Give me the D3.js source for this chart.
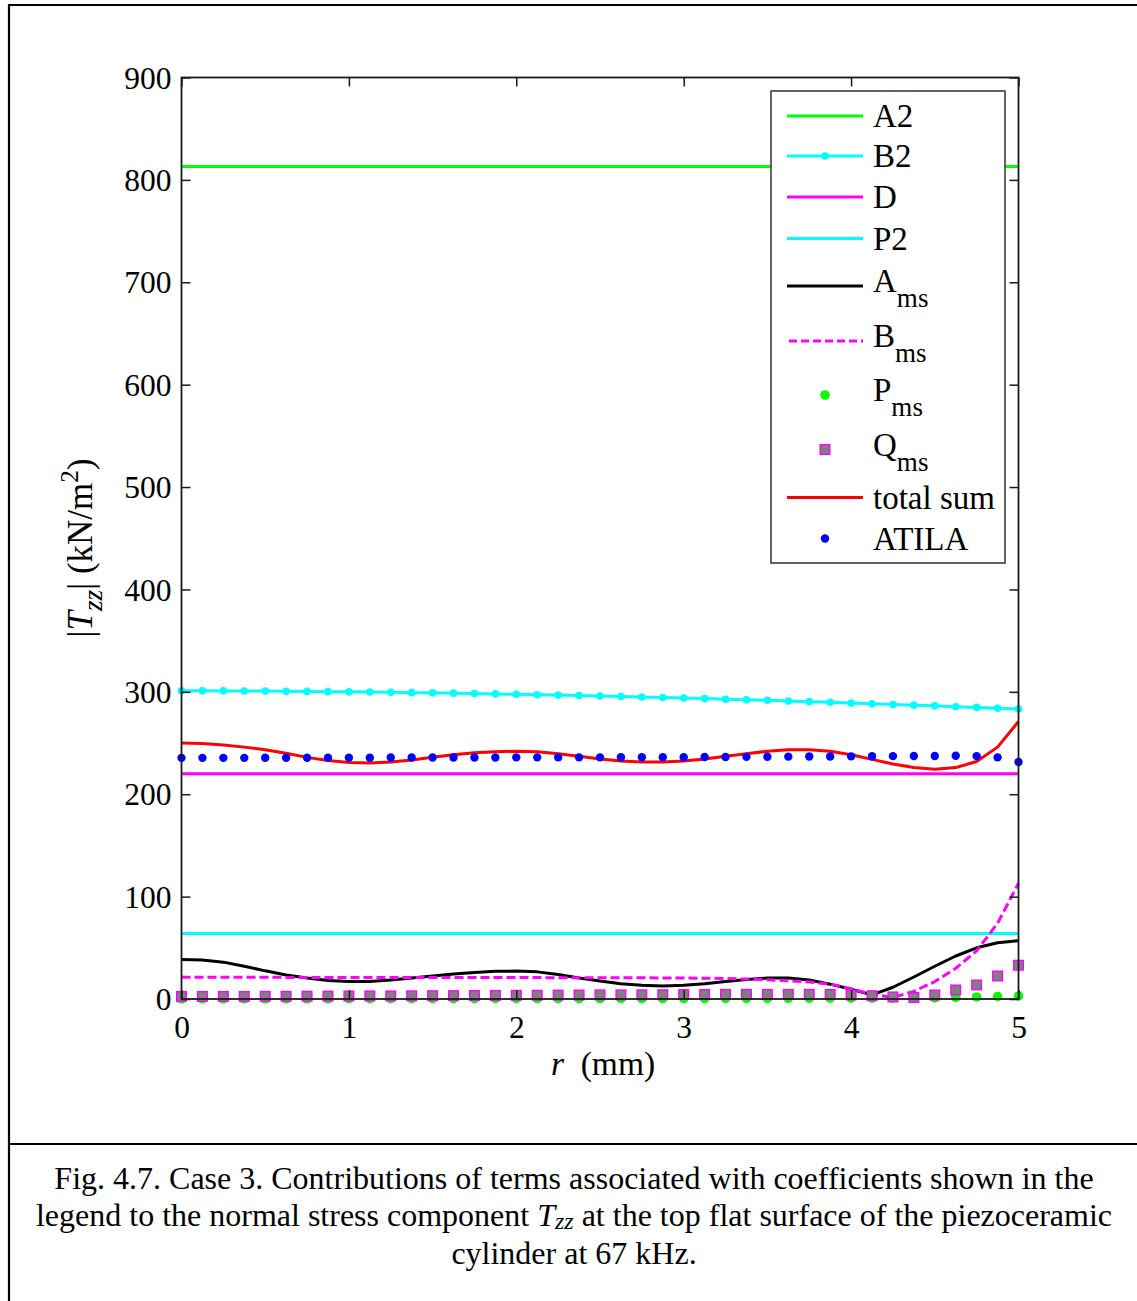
<!DOCTYPE html>
<html>
<head>
<meta charset="utf-8">
<script src="https://cdn.jsdelivr.net/npm/d3@7"></script>
<style>
  html, body { margin: 0; padding: 0; background: #fff; }
  svg { display: block; }
  text { font-family: 'Liberation Serif', 'Times New Roman', serif; fill: #000; }
</style>
</head>
<body>
<svg id="chart" width="1137" height="1301"></svg>
<script>
// ---------------- DATA ----------------
const rGrid = [0, 0.125, 0.25, 0.375, 0.5, 0.625, 0.75, 0.875, 1, 1.125, 1.25, 1.375, 1.5, 1.625, 1.75, 1.875,
  2, 2.125, 2.25, 2.375, 2.5, 2.625, 2.75, 2.875, 3, 3.125, 3.25, 3.375, 3.5, 3.625, 3.75, 3.875,
  4, 4.125, 4.25, 4.375, 4.5, 4.625, 4.75, 4.875, 5];
const rEnds = [0, 5];

const a2Values = [813, 813];
const dValues = [220, 220];
const p2Values = [64, 64];

const b2Values = [301.0, 301.0, 300.9, 300.8, 300.7, 300.6, 300.4, 300.2, 300.0, 299.8,
  299.5, 299.2, 299.0, 298.7, 298.3, 298.0, 297.6, 297.2, 296.8, 296.4,
  296.0, 295.5, 295.0, 294.5, 294.0, 293.4, 292.8, 292.3, 291.7, 291.1,
  290.4, 289.8, 289.1, 288.4, 287.7, 287.0, 286.3, 285.5, 284.8, 284.0, 283.3];

const amsValues = [38.7, 38, 36, 32, 27.5, 23.5, 20.5, 18, 17, 17, 18.5, 20.5, 22.5, 24.5, 26, 27,
  27.3, 26.5, 24, 20.5, 17.5, 15, 13.5, 12.7, 13.5, 15, 17, 19, 20.5, 20.5, 18.5, 14.5,
  9.5, 4, 11.5, 21.5, 32, 42, 50, 55, 57];

const bmsValues = [21.2, 21.2, 21.2, 21.2, 21.2, 21.1, 21.1, 21.1, 21.1, 21.0, 21.0, 21.0, 21.0, 21.0,
  20.9, 20.9, 20.9, 20.9, 20.8, 20.8, 20.8, 20.7, 20.7, 20.6, 20.5, 20.3, 20.0, 19.5, 18.8, 17.8,
  16.5, 14.5, 10, 4.5, 1.5, 7.5, 17, 30, 47, 74, 113];

const pmsValues = [0.2, 0.2, 0.2, 0.2, 0.2, 0.2, 0.2, 0.2, 0.3, 0.3, 0.3, 0.3, 0.3, 0.3, 0.3, 0.3,
  0.4, 0.4, 0.4, 0.4, 0.4, 0.4, 0.5, 0.5, 0.5, 0.5, 0.6, 0.6, 0.6, 0.7, 0.7, 0.8,
  0.8, 0.9, 0.9, 1.0, 1.0, 1.5, 2.0, 2.5, 3.0];

const qmsValues = [2.5, 2.5, 2.5, 2.5, 2.6, 2.6, 2.7, 2.8, 2.9, 3.0, 3.0, 3.1, 3.2, 3.3, 3.4, 3.5,
  3.6, 3.7, 3.8, 3.9, 4.0, 4.0, 4.1, 4.2, 4.3, 4.4, 4.5, 4.5, 4.5, 4.5, 4.5, 4.4,
  4.0, 3.2, 2.0, 1.5, 3.9, 8.8, 13.7, 22.5, 33];

const totalValues = [250, 249.5, 248, 246, 243.5, 240, 236, 233, 231, 230.5, 231.5, 233.5, 236, 238.5,
  240.5, 241.5, 242, 241.5, 239.5, 237, 234.5, 232.5, 231.5, 231.5, 232.5, 234.5, 237, 239.5,
  242, 243.5, 243.5, 242, 238.5, 234, 229.5, 226, 224.5, 226, 232, 246, 271];

const atilaValues = [235.5, 235.5, 235.5, 235.5, 235.6, 235.6, 235.6, 235.7, 235.7, 235.7, 235.8,
  235.8, 235.8, 235.9, 235.9, 235.9, 236.0, 236.0, 236.0, 236.0, 236.0, 236.1, 236.1, 236.2,
  236.2, 236.3, 236.4, 236.5, 236.6, 236.7, 236.8, 236.9, 237.0, 237.1, 237.2, 237.3, 237.4,
  237.6, 237.2, 236.0, 231.5];

const xTicks = [0, 1, 2, 3, 4, 5];
const yTicks = [0, 100, 200, 300, 400, 500, 600, 700, 800, 900];

const legendLabels = ["A2", "B2", "D", "P2", "A", "B", "P", "Q", "total sum", "ATILA"];
const legendSubs = ["", "", "", "", "ms", "ms", "ms", "ms", "", ""];

const captionLines = [
  "Fig. 4.7. Case 3. Contributions of terms associated with coefficients shown in the",
  ["legend to the normal stress component ", "T", "zz", " at the top flat surface of the piezoceramic"],
  "cylinder at 67 kHz."
];

// ---------------- LAYOUT ----------------
const svg = d3.select("#chart");
const plot = { left: 181.5, right: 1018.5, top: 77.5, bottom: 999 };
const x = d3.scaleLinear().domain([0, 5]).range([plot.left, plot.right]);
const y = d3.scaleLinear().domain([0, 900]).range([plot.bottom, plot.top]);

const FONT = 31.5;
const LFONT = 33;
const SW = 3;
const col = { green: "#00ff00", cyan: "#00ffff", magenta: "#ff00ff", black: "#000", red: "#ff0000", blue: "#0000ff", gray: "#808080" };

svg.append("rect").attr("width", 1137).attr("height", 1301).attr("fill", "#fff");

// outer frame
svg.append("line").attr("x1", 8).attr("x2", 1137).attr("y1", 5).attr("y2", 5).attr("stroke", "#000").attr("stroke-width", 2.2);
svg.append("line").attr("x1", 9).attr("x2", 9).attr("y1", 4).attr("y2", 1301).attr("stroke", "#000").attr("stroke-width", 2.2);
svg.append("line").attr("x1", 9).attr("x2", 1137).attr("y1", 1144).attr("y2", 1144).attr("stroke", "#000").attr("stroke-width", 2.2);

// clip
svg.append("clipPath").attr("id", "clip").append("rect")
  .attr("x", plot.left - 6).attr("y", plot.top - 6).attr("width", plot.right - plot.left + 12).attr("height", plot.bottom - plot.top + 12);

const g = svg.append("g").attr("clip-path", "url(#clip)");

const line = d3.line().x(d => x(d[0])).y(d => y(d[1]));
const zipGrid = vals => rGrid.map((r, i) => [r, vals[i]]);
const zipEnds = vals => rEnds.map((r, i) => [r, vals[i]]);

function drawLine(data, color, dash) {
  g.append("path").datum(data).attr("d", line).attr("fill", "none")
    .attr("stroke", color).attr("stroke-width", SW)
    .attr("stroke-dasharray", dash || null).attr("stroke-linejoin", "round");
}

// A2
drawLine(zipEnds(a2Values), col.green);
// B2
drawLine(zipGrid(b2Values), col.cyan);
g.selectAll(".b2dot").data(zipGrid(b2Values)).enter().append("circle")
  .attr("cx", d => x(d[0])).attr("cy", d => y(d[1])).attr("r", 3.8).attr("fill", col.cyan);
// D
drawLine(zipEnds(dValues), col.magenta);
// P2
drawLine(zipEnds(p2Values), col.cyan);
// A_ms
drawLine(zipGrid(amsValues), col.black);
// B_ms
drawLine(zipGrid(bmsValues), col.magenta, "9,4");
// P_ms
g.selectAll(".pms").data(zipGrid(pmsValues)).enter().append("circle")
  .attr("cx", d => x(d[0])).attr("cy", d => y(d[1])).attr("r", 4.8).attr("fill", col.green);
// Q_ms
g.selectAll(".qms").data(zipGrid(qmsValues)).enter().append("rect")
  .attr("x", d => x(d[0]) - 4.8).attr("y", d => y(d[1]) - 4.8).attr("width", 9.6).attr("height", 9.6)
  .attr("fill", col.gray).attr("stroke", col.magenta).attr("stroke-width", 1.4);
// total sum
drawLine(zipGrid(totalValues), col.red);
// ATILA
g.selectAll(".atila").data(zipGrid(atilaValues)).enter().append("circle")
  .attr("cx", d => x(d[0])).attr("cy", d => y(d[1])).attr("r", 4.2).attr("fill", col.blue);

// ---------------- AXES ----------------
const axisColor = "#1a1a1a";
const TL = 9;
svg.append("rect").attr("x", plot.left).attr("y", plot.top).attr("width", plot.right - plot.left)
  .attr("height", plot.bottom - plot.top).attr("fill", "none").attr("stroke", axisColor).attr("stroke-width", 1.8);

const axB = svg.append("g").attr("transform", `translate(0,${plot.bottom})`)
  .call(d3.axisBottom(x).tickValues(xTicks).tickSize(-TL).tickPadding(TL + 7).tickFormat(d3.format("d")));
const axT = svg.append("g").attr("transform", `translate(0,${plot.top})`)
  .call(d3.axisTop(x).tickValues(xTicks).tickSize(-TL).tickFormat(""));
const axL = svg.append("g").attr("transform", `translate(${plot.left},0)`)
  .call(d3.axisLeft(y).tickValues(yTicks).tickSize(-TL).tickPadding(TL + 1).tickFormat(d3.format("d")));
const axR = svg.append("g").attr("transform", `translate(${plot.right},0)`)
  .call(d3.axisRight(y).tickValues(yTicks).tickSize(-TL).tickFormat(""));
[axB, axT, axL, axR].forEach(a => {
  a.select(".domain").remove();
  a.selectAll(".tick line").attr("stroke", axisColor).attr("stroke-width", 1.5);
  a.selectAll("text").attr("font-size", FONT).attr("font-family", "'Liberation Serif', serif").attr("fill", "#000");
});
axL.selectAll("text").attr("dy", "0.34em");
axB.selectAll("text").attr("dy", "0.72em");

// x label
const xl = svg.append("text").attr("x", 603).attr("y", 1075).attr("text-anchor", "middle").attr("font-size", 33.5);
xl.append("tspan").attr("font-style", "italic").text("r");
xl.append("tspan").text("\u00a0\u00a0(mm)");

// y label
const YF = 35;
const yl = svg.append("text").attr("transform", "translate(92,548) rotate(-90)").attr("text-anchor", "middle").attr("font-size", YF);
yl.append("tspan").text("|");
yl.append("tspan").attr("font-style", "italic").text("T");
yl.append("tspan").attr("font-style", "italic").attr("dy", 10).attr("font-size", YF * 0.78).text("zz");
yl.append("tspan").attr("dy", -10).text("| (kN/m");
yl.append("tspan").attr("dy", -14).attr("font-size", YF * 0.72).text("2");
yl.append("tspan").attr("dy", 14).text(")");

// ---------------- LEGEND ----------------
const lg = svg.append("g");
lg.append("rect").attr("x", 771).attr("y", 91).attr("width", 234).attr("height", 472)
  .attr("fill", "#fff").attr("stroke", "#333").attr("stroke-width", 1.5);
const legY = [116, 156, 197, 238.5, 286, 341, 395, 449.5, 497.5, 538.5];
const lx1 = 787, lx2 = 863, lmx = 825, tx = 873;
legendLabels.forEach((lab, i) => {
  const yy = legY[i];
  if (i === 0) lg.append("line").attr("x1", lx1).attr("x2", lx2).attr("y1", yy).attr("y2", yy).attr("stroke", col.green).attr("stroke-width", SW);
  if (i === 1) {
    lg.append("line").attr("x1", lx1).attr("x2", lx2).attr("y1", yy).attr("y2", yy).attr("stroke", col.cyan).attr("stroke-width", SW);
    lg.append("circle").attr("cx", lmx).attr("cy", yy).attr("r", 3.8).attr("fill", col.cyan);
  }
  if (i === 2) lg.append("line").attr("x1", lx1).attr("x2", lx2).attr("y1", yy).attr("y2", yy).attr("stroke", col.magenta).attr("stroke-width", SW);
  if (i === 3) lg.append("line").attr("x1", lx1).attr("x2", lx2).attr("y1", yy).attr("y2", yy).attr("stroke", col.cyan).attr("stroke-width", SW);
  if (i === 4) lg.append("line").attr("x1", lx1).attr("x2", lx2).attr("y1", yy).attr("y2", yy).attr("stroke", col.black).attr("stroke-width", SW);
  if (i === 5) lg.append("line").attr("x1", lx1 + 2).attr("x2", lx2).attr("y1", yy).attr("y2", yy).attr("stroke", col.magenta).attr("stroke-width", SW).attr("stroke-dasharray", "8,4");
  if (i === 6) lg.append("circle").attr("cx", lmx).attr("cy", yy).attr("r", 4.8).attr("fill", col.green);
  if (i === 7) lg.append("rect").attr("x", lmx - 4.8).attr("y", yy - 4.8).attr("width", 9.6).attr("height", 9.6).attr("fill", col.gray).attr("stroke", col.magenta).attr("stroke-width", 1.4);
  if (i === 8) lg.append("line").attr("x1", lx1).attr("x2", lx2).attr("y1", yy).attr("y2", yy).attr("stroke", col.red).attr("stroke-width", SW);
  if (i === 9) lg.append("circle").attr("cx", lmx).attr("cy", yy).attr("r", 4.2).attr("fill", col.blue);

  const t = lg.append("text").attr("x", tx).attr("font-size", LFONT);
  if (legendSubs[i]) {
    t.attr("y", yy + 6);
    t.append("tspan").text(lab);
    t.append("tspan").attr("dy", 15).attr("font-size", LFONT * 0.82).text(legendSubs[i]);
  } else {
    t.attr("y", yy + 11).text(lab);
  }
});

// ---------------- CAPTION ----------------
const capY = [1189, 1226, 1264];
const CAP = 32;
captionLines.forEach((ln, i) => {
  const t = svg.append("text").attr("x", 574).attr("y", capY[i]).attr("text-anchor", "middle").attr("font-size", CAP);
  if (typeof ln === "string") {
    t.text(ln);
  } else {
    t.append("tspan").text(ln[0]);
    t.append("tspan").attr("font-style", "italic").text(ln[1]);
    t.append("tspan").attr("font-style", "italic").attr("dy", 3).attr("font-size", CAP * 0.75).text(ln[2]);
    t.append("tspan").attr("dy", -3).text(ln[3]);
  }
});
</script>
</body>
</html>
